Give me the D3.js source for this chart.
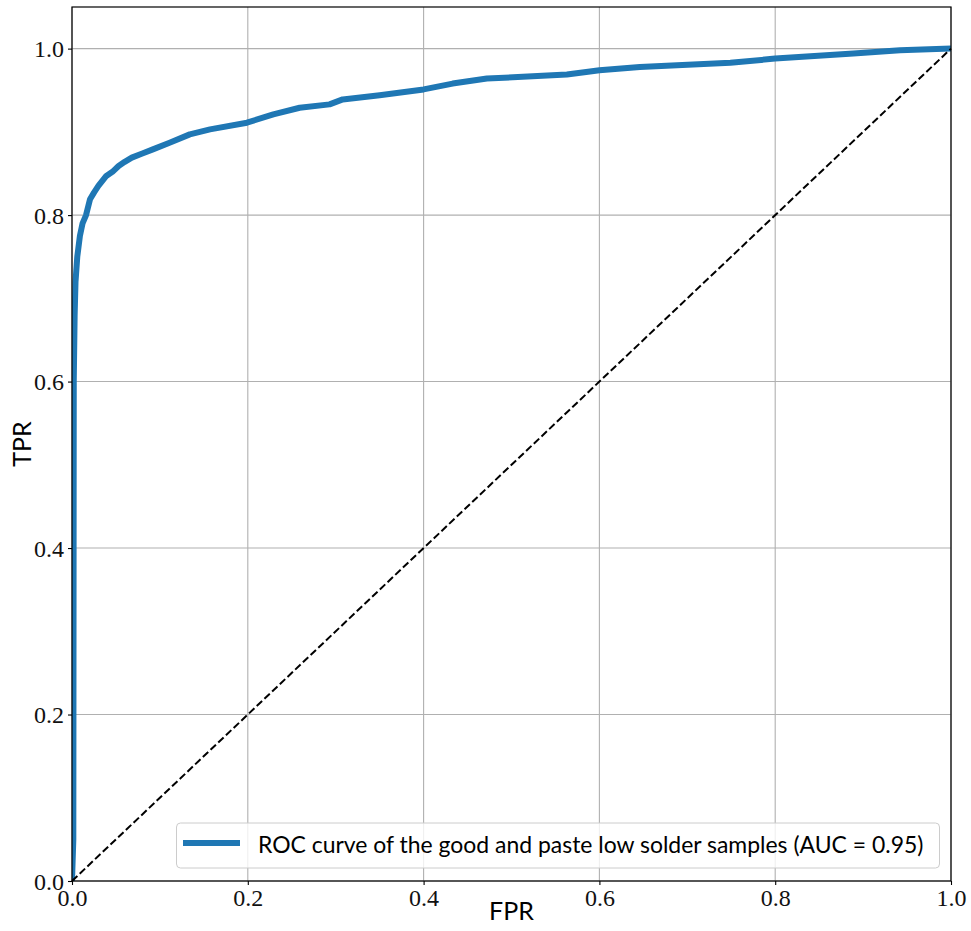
<!DOCTYPE html>
<html>
<head>
<meta charset="utf-8">
<script src="https://cdn.jsdelivr.net/npm/d3@7"></script>
<style>
  html, body { margin: 0; padding: 0; background: #ffffff; }
  svg { display: block; }
</style>
</head>
<body>
<svg id="chart" width="971" height="931"></svg>
<script>
// ROC curve: false positive rate vs true positive rate
const fpr = [0.000, 0.0015, 0.002, 0.003, 0.004, 0.006, 0.009, 0.012, 0.016, 0.0205, 0.025, 0.030, 0.039,
             0.046, 0.053, 0.060, 0.068, 0.080, 0.092, 0.111, 0.134, 0.157, 0.199, 0.229, 0.259, 0.293, 0.308, 0.350,
             0.400, 0.433, 0.472, 0.563, 0.585, 0.600, 0.646, 0.749, 0.800, 0.889, 0.942, 1.000];
const tpr = [0.000, 0.050, 0.600, 0.680, 0.720, 0.750, 0.775, 0.790, 0.800, 0.819, 0.827, 0.835, 0.847,
             0.852, 0.859, 0.864, 0.869, 0.874, 0.879, 0.887, 0.897, 0.903, 0.911, 0.921, 0.929, 0.933, 0.939, 0.944,
             0.951, 0.958, 0.964, 0.969, 0.972, 0.974, 0.978, 0.983, 0.988, 0.994, 0.998, 1.000];

const xTicks = [0.0, 0.2, 0.4, 0.6, 0.8, 1.0];
const yTicks = [0.0, 0.2, 0.4, 0.6, 0.8, 1.0];
const legendLabel = "ROC curve of the good and paste low solder samples (AUC = 0.95)";
const xLabel = "FPR";
const yLabel = "TPR";

const svg = d3.select("#chart");
const plotLeft = 72, plotRight = 951, plotTop = 7, plotBottom = 881;

const x = d3.scaleLinear().domain([0, 1]).range([plotLeft, plotRight]);
const y = d3.scaleLinear().domain([0, 1.05]).range([plotBottom, plotTop]);

const serif = "'Liberation Serif', 'DejaVu Serif', serif";
const sans = "Lato, 'Open Sans', 'DejaVu Sans', sans-serif";

// clip region for the plotted data
svg.append("defs").append("clipPath").attr("id", "plotClip")
  .append("rect")
  .attr("x", x(0)).attr("y", y(1.05))
  .attr("width", x(1) - x(0)).attr("height", y(0) - y(1.05));

// grid lines
const grid = svg.append("g").attr("class", "grid");
grid.selectAll("line.gx").data(xTicks).join("line")
  .attr("x1", d => x(d)).attr("x2", d => x(d))
  .attr("y1", y(0)).attr("y2", y(1.05))
  .attr("stroke", "#b0b0b0").attr("stroke-width", 1.1);
grid.selectAll("line.gy").data(yTicks).join("line")
  .attr("x1", x(0)).attr("x2", x(1))
  .attr("y1", d => y(d)).attr("y2", d => y(d))
  .attr("stroke", "#b0b0b0").attr("stroke-width", 1.1);

// ROC curve
const line = d3.line().x((d, i) => x(fpr[i])).y((d, i) => y(tpr[i]));
svg.append("path")
  .datum(fpr)
  .attr("clip-path", "url(#plotClip)")
  .attr("d", line)
  .attr("fill", "none")
  .attr("stroke", "#1f77b4")
  .attr("stroke-width", 6)
  .attr("stroke-linejoin", "round")
  .attr("stroke-linecap", "butt");

// chance diagonal
svg.append("line")
  .attr("x1", x(0)).attr("y1", y(0))
  .attr("x2", x(1)).attr("y2", y(1))
  .attr("stroke", "#000").attr("stroke-width", 2)
  .attr("stroke-dasharray", "7.4,3.2");

// axes
const fmt = d3.format(".1f");
const xAxis = svg.append("g")
  .attr("transform", `translate(0,${y(0)})`)
  .call(d3.axisBottom(x).tickValues(xTicks).tickFormat(fmt).tickSize(4).tickPadding(4));
const yAxis = svg.append("g")
  .attr("transform", `translate(${x(0)},0)`)
  .call(d3.axisLeft(y).tickValues(yTicks).tickFormat(fmt).tickSize(4).tickPadding(4));
[xAxis, yAxis].forEach(a => {
  a.select(".domain").remove();
  a.selectAll(".tick line").attr("stroke", "#000").attr("stroke-width", 1.1);
  a.selectAll(".tick text").attr("font-family", serif).attr("font-size", 24).attr("fill", "#111");
});
yAxis.selectAll(".tick text").attr("dy", "0.34em");

// frame
svg.append("rect")
  .attr("x", x(0)).attr("y", y(1.05))
  .attr("width", x(1) - x(0)).attr("height", y(0) - y(1.05))
  .attr("fill", "none").attr("stroke", "#000").attr("stroke-width", 1.2);

// axis titles
svg.append("text")
  .attr("x", (x(0) + x(1)) / 2).attr("y", 920)
  .attr("text-anchor", "middle")
  .attr("font-family", sans).attr("font-size", 25)
  .text(xLabel);
svg.append("text")
  .attr("transform", `translate(31,${(y(0) + y(1.05)) / 2}) rotate(-90)`)
  .attr("text-anchor", "middle")
  .attr("font-family", sans).attr("font-size", 25)
  .text(yLabel);

// legend
const lg = svg.append("g");
lg.append("rect")
  .attr("x", 176.5).attr("y", 823).attr("width", 763).attr("height", 45)
  .attr("rx", 4).attr("ry", 4)
  .attr("fill", "#ffffff").attr("fill-opacity", 0.8)
  .attr("stroke", "#cccccc").attr("stroke-width", 1);
lg.append("line")
  .attr("x1", 183).attr("x2", 240).attr("y1", 843).attr("y2", 843)
  .attr("stroke", "#1f77b4").attr("stroke-width", 6);
const lt = lg.append("text")
  .attr("x", 258).attr("y", 853)
  .attr("font-family", sans).attr("font-size", 25)
  .text(legendLabel);
// size the label so it spans the legend box
const natural = lt.node().getComputedTextLength();
if (natural > 0) lt.attr("font-size", 25 * 666 / natural);
</script>
</body>
</html>
